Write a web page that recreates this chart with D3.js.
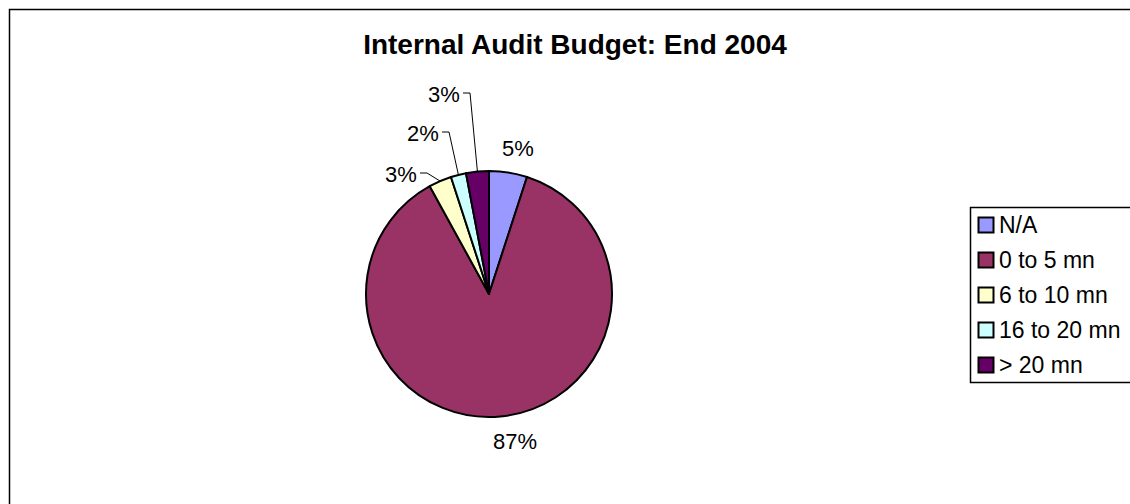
<!DOCTYPE html>
<html>
<head>
<meta charset="utf-8">
<script src="https://cdn.jsdelivr.net/npm/d3@7"></script>
<style>
  html, body { margin: 0; padding: 0; background: #fff; }
  svg { display: block; font-family: Arial, "Liberation Sans", sans-serif; }
</style>
</head>
<body>
<svg id="chart" width="1130" height="504"></svg>
<script>
// Budget bands and their share of respondents (percent)
const categories = ["N/A", "0 to 5 mn", "6 to 10 mn", "16 to 20 mn", "> 20 mn"];
const shares = [5, 87, 3, 2, 3];
const colors = ["#9999FF", "#993366", "#FFFFCC", "#CCFFFF", "#660066"];
const title = "Internal Audit Budget: End 2004";

const svg = d3.select("#chart");
const W = 1130, H = 504;

// chart area frame
svg.append("rect")
  .attr("x", 9.5).attr("y", 9.5)
  .attr("width", W + 20).attr("height", H + 20)
  .attr("fill", "#fff").attr("stroke", "#000").attr("stroke-width", 1.5);

svg.append("text")
  .attr("x", 575).attr("y", 54)
  .attr("text-anchor", "middle")
  .attr("font-size", 28).attr("font-weight", "bold")
  .text(title);

const cx = 489, cy = 294, R = 123;
const data = categories.map((c, i) => ({ cat: c, value: shares[i], color: colors[i] }));

const pie = d3.pie().value(d => d.value).sort(null);
const arc = d3.arc().innerRadius(0).outerRadius(R);
const arcs = pie(data);

const g = svg.append("g").attr("transform", `translate(${cx},${cy})`);
g.selectAll("path.slice").data(arcs).enter().append("path")
  .attr("class", "slice")
  .attr("d", arc)
  .attr("fill", d => d.data.color)
  .attr("stroke", "#000").attr("stroke-width", 2)
  .attr("stroke-linejoin", "round");

// label placement (offset from pie centre); leader lines for the thin slices
const labelPos = {
  "N/A":         { x: 29,  y: -146, leader: false },
  "0 to 5 mn":   { x: 26,  y: 147,  leader: false },
  "6 to 10 mn":  { x: -88, y: -120, leader: true },
  "16 to 20 mn": { x: -66, y: -161, leader: true },
  "> 20 mn":     { x: -45, y: -200, leader: true }
};
const fmt = d => d3.format(".0f")(d) + "%";
const FS = 22;

arcs.forEach(a => {
  const p = labelPos[a.data.cat];
  g.append("text")
    .attr("x", p.x).attr("y", p.y)
    .attr("text-anchor", "middle")
    .attr("dominant-baseline", "central")
    .attr("font-size", FS)
    .text(fmt(a.data.value));
  if (p.leader) {
    const mid = (a.startAngle + a.endAngle) / 2;
    const ex = Math.sin(mid) * R, ey = -Math.cos(mid) * R;
    const tx = p.x + 19, elbow = Math.min(tx + 7, ex - 1);
    g.append("path")
      .attr("d", `M${tx},${p.y - 1}H${elbow}L${ex},${ey}`)
      .attr("fill", "none").attr("stroke", "#000").attr("stroke-width", 1);
  }
});

// legend
const lg = svg.append("g");
lg.append("rect")
  .attr("x", 970.5).attr("y", 207.5)
  .attr("width", 200).attr("height", 175)
  .attr("fill", "#fff").attr("stroke", "#000").attr("stroke-width", 1.5);

const rowY = d3.scalePoint().domain(categories).range([225, 365]);
const items = lg.selectAll("g.item").data(data).enter().append("g")
  .attr("transform", d => `translate(978,${rowY(d.cat)})`);
items.append("rect")
  .attr("x", 0.5).attr("y", -7.5).attr("width", 15).attr("height", 15)
  .attr("fill", d => d.color).attr("stroke", "#000").attr("stroke-width", 2);
items.append("text")
  .attr("x", 21).attr("y", 0)
  .attr("dominant-baseline", "central")
  .attr("font-size", 23)
  .text(d => d.cat);
</script>
</body>
</html>
